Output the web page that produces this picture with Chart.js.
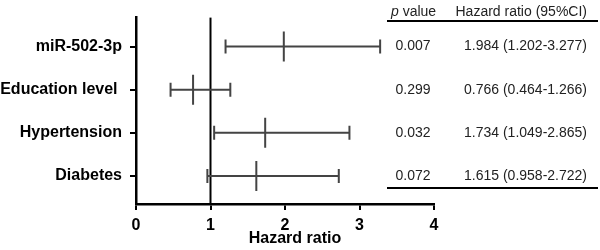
<!DOCTYPE html>
<html>
<head>
<meta charset="utf-8">
<script src="https://cdn.jsdelivr.net/npm/chart.js@4"></script>
<style>
    html, body { margin: 0; padding: 0; background: #fff; }
    #wrap { width: 600px; height: 250px; }
</style>
</head>
<body>
<div id="wrap"><canvas id="forest"></canvas></div>
<script>
// values
const categories = ["miR-502-3p", "Education level ", "Hypertension", "Diabetes"];
const hazardRatio = [1.984, 0.766, 1.734, 1.615];
const ciLower = [1.202, 0.464, 1.049, 0.958];
const ciUpper = [3.277, 1.266, 2.865, 2.722];
const pValues = ["0.007", "0.299", "0.032", "0.072"];
const hrText = ["1.984 (1.202-3.277)", "0.766 (0.464-1.266)", "1.734 (1.049-2.865)", "1.615 (0.958-2.722)"];
const xTicks = [0, 1, 2, 3, 4];

const barColor = "#444444";
const textFont = "Liberation Sans, Arial, sans-serif";

// CI whiskers + reference line at HR = 1
const errorBars = {
    id: "errorBars",
    beforeDatasetsDraw(chart) {
        const { ctx, scales: { x, y }, chartArea } = chart;
        ctx.save();
        ctx.strokeStyle = "#000";
        ctx.lineWidth = 2;
        ctx.beginPath();
        ctx.moveTo(x.getPixelForValue(1), chartArea.top);
        ctx.lineTo(x.getPixelForValue(1), chartArea.bottom);
        ctx.stroke();

        ctx.strokeStyle = barColor;
        ctx.lineWidth = 2;
        categories.forEach((c, i) => {
            const py = y.getPixelForValue(i);
            const x0 = x.getPixelForValue(ciLower[i]);
            const x1 = x.getPixelForValue(ciUpper[i]);
            ctx.beginPath();
            ctx.moveTo(x0, py);
            ctx.lineTo(x1, py);
            ctx.moveTo(x0, py - 7);
            ctx.lineTo(x0, py + 7);
            ctx.moveTo(x1, py - 7);
            ctx.lineTo(x1, py + 7);
            ctx.stroke();
        });
        ctx.restore();
    }
};

// p value / HR table on the right, plus the x axis title
const sideTable = {
    id: "sideTable",
    afterDraw(chart) {
        const { ctx, scales: { x, y }, chartArea } = chart;
        ctx.save();
        ctx.fillStyle = "#000";
        ctx.textBaseline = "middle";
        ctx.textAlign = "center";
        ctx.font = "bold 16px " + textFont;
        ctx.fillText("Hazard ratio", (chartArea.left + chartArea.right) / 2 + 10, 239);

        ctx.fillStyle = "#222";
        // header
        ctx.textAlign = "left";
        ctx.font = "italic 14px " + textFont;
        ctx.fillText("p", 391, 12);
        const pw = ctx.measureText("p ").width;
        ctx.font = "14px " + textFont;
        ctx.fillText("value", 391 + pw, 12);
        ctx.textAlign = "right";
        ctx.fillText("Hazard ratio (95%CI)", 587, 12);

        categories.forEach((c, i) => {
            const py = y.getPixelForValue(i);
            ctx.textAlign = "center";
            ctx.fillText(pValues[i], 413, py);
            ctx.textAlign = "right";
            ctx.fillText(hrText[i], 587, py);
        });

        ctx.strokeStyle = "#000";
        ctx.lineWidth = 2;
        ctx.beginPath();
        ctx.moveTo(387, 21);
        ctx.lineTo(598, 21);
        ctx.moveTo(387, 188);
        ctx.lineTo(598, 188);
        ctx.stroke();
        ctx.restore();
    }
};

new Chart(document.getElementById("forest"), {
    type: "scatter",
    data: {
        datasets: [{
            data: hazardRatio.map((v, i) => ({ x: v, y: i })),
            pointStyle: "line",
            rotation: 90,
            radius: 15,
            hoverRadius: 15,
            borderWidth: 2,
            borderColor: barColor,
            backgroundColor: barColor,
        }],
    },
    options: {
        responsive: true,
        maintainAspectRatio: false,
        animation: false,
        layout: { padding: { top: 5, right: 166, left: 0, bottom: 0 } },
        plugins: { legend: { display: false }, tooltip: { enabled: false } },
        scales: {
            x: {
                type: "linear",
                min: 0,
                max: 4,
                afterBuildTicks: (s) => { s.ticks = xTicks.map(v => ({ value: v })); },
                afterFit: (s) => { s.height = 46; },
                grid: { drawOnChartArea: false, drawTicks: true, tickLength: 6, color: "#000", lineWidth: 2 },
                border: { display: true, color: "#000", width: 2.5 },
                ticks: { color: "#000", padding: 6, font: { family: textFont, size: 16, weight: "bold" } },
            },
            y: {
                type: "linear",
                reverse: true,
                min: -0.67,
                max: 3.65,
                afterBuildTicks: (s) => { s.ticks = categories.map((c, i) => ({ value: i })); },
                afterFit: (s) => { s.width = 136; },
                grid: { drawOnChartArea: false, drawTicks: true, tickLength: 6, color: "#000", lineWidth: 2 },
                border: { display: true, color: "#000", width: 2.5 },
                ticks: {
                    color: "#000",
                    padding: 8,
                    font: { family: textFont, size: 16, weight: "bold" },
                    callback: (v) => categories[v],
                },
            },
        },
    },
    plugins: [errorBars, sideTable],
});
</script>
</body>
</html>
